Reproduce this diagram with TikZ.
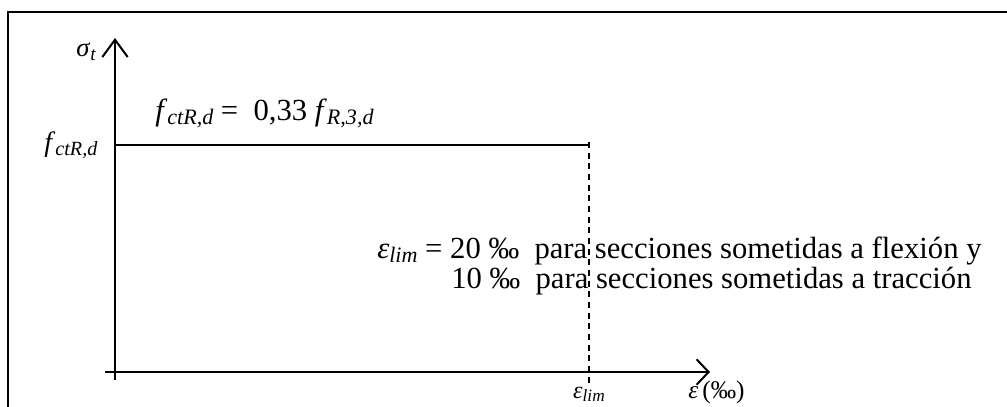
\documentclass[tikz,border=0pt]{standalone}
\usepackage{fontspec}
\setmainfont{Liberation Serif}
\usetikzlibrary{arrows.meta,positioning}

% italic subscript, scaled to the current font
\newcommand{\idx}[1]{\raisebox{-0.3ex}{\fontsize{\the\dimexpr0.72\fontdimen6\font\relax}{0pt}\selectfont\itshape #1}}

\tikzset{
 axis/.style={line width=1.5pt, -{Straight Barb[length=#1,width=19pt,line width=1.5pt]}},
 lbl/.style={inner sep=0pt, font=\fontsize{18}{20}\selectfont},
 big/.style={inner sep=0pt, font=\fontsize{23}{26}\selectfont},
}

\begin{document}
\begin{tikzpicture}[x=0.75pt,y=-0.75pt]
 \useasboundingbox (0,0) rectangle (1007,407);
 % frame
 \draw[line width=2.2pt] (8,407) -- (8,12) -- (1007,12);
 % axes
 \coordinate (ybot) at (115,380);
 \coordinate (ytop) at (115,38);
 \coordinate (xbeg) at (105,372);
 \coordinate (xend) at (710,372);
 \coordinate (fy) at (115,145);
 \coordinate (flim) at (589,145);
 \coordinate (flimtop) at (589,142);
 \coordinate (elim) at (589,385);
 \draw[axis=13pt] (ybot) -- (ytop);
 \draw[axis=9pt] (xbeg) -- (xend);
 % diagram
 \draw[line width=0.8pt] (fy) -- (flim);
 \draw[line width=0.8pt, dash pattern=on 4.5pt off 3.5pt] (flimtop) -- (elim);
 % labels
 \node[lbl, font=\fontsize{20}{22}\selectfont] (sig) at (86,52) {\textit{σ}\idx{t}};
 \node[lbl, font=\fontsize{21}{24}\selectfont, left=13pt of fy] (fval) {\textit{f}\idx{ctR,d}};
 \node[lbl, font=\fontsize{23}{25}\selectfont, anchor=base west] (feq) at (155,120) {\textit{f}\idx{ctR,d} =\ \ 0,33 \textit{f}\idx{R,3,d}};
 \node[big, anchor=base west] (lineA) at (377,258) {\textit{ε}\idx{lim} = 20 ‰\ \ para secciones sometidas a flexión y};
 \node[big, anchor=base west] (lineB) at (451,288) {10 ‰\ \ para secciones sometidas a tracción};
 \node[lbl, anchor=base] (elimlbl) at (589,398) {\textit{ε}\idx{lim}};
 \node[lbl, font=\fontsize{19}{22}\selectfont, anchor=base west] (eps) at (688,398) {\textit{ε}\,(‰)};
\end{tikzpicture}
\end{document}
